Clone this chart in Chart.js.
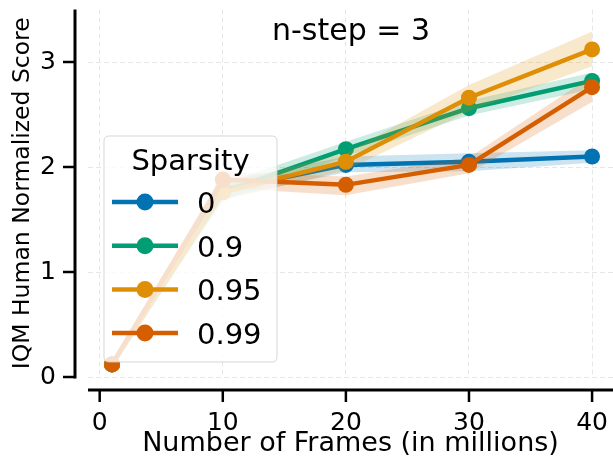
<!DOCTYPE html>
<html><head><meta charset="utf-8">
<script src="https://cdn.jsdelivr.net/npm/chart.js@4/dist/chart.umd.min.js"></script>
<style>html,body{margin:0;padding:0;background:#fff}#wrap{width:613px;height:469px}</style>
</head><body><div id="wrap"><canvas id="c" width="613" height="469"></canvas></div>
<script>
// ---- data ----
const frames = [1, 10, 20, 30, 40];
const seriesNames = ['0', '0.9', '0.95', '0.99'];
const score_0    = [0.12, 1.78, 2.02, 2.05, 2.10];
const score_090  = [0.12, 1.76, 2.17, 2.56, 2.82];
const score_095  = [0.12, 1.76, 2.05, 2.66, 3.12];
const score_099  = [0.12, 1.88, 1.83, 2.02, 2.76];
const low_0      = [0.09, 1.70, 1.95, 1.96, 2.04];
const high_0     = [0.15, 1.86, 2.10, 2.13, 2.16];
const low_090    = [0.09, 1.68, 2.10, 2.49, 2.74];
const high_090   = [0.15, 1.84, 2.24, 2.63, 2.90];
const low_095    = [0.09, 1.68, 1.97, 2.53, 2.96];
const high_095   = [0.15, 1.84, 2.13, 2.78, 3.29];
const low_099    = [0.09, 1.80, 1.73, 1.94, 2.62];
const high_099   = [0.15, 1.95, 1.91, 2.09, 2.87];
const xTicks = [0, 10, 20, 30, 40];
const yTicks = [0, 1, 2, 3];
const titleText = 'n-step = 3';
const legendTitle = 'Sparsity';
const xLabel = 'Number of Frames (in millions)';
const yLabel = 'IQM Human Normalized Score';

// ---- styles ----
const means = [score_0, score_090, score_095, score_099];
const lows = [low_0, low_090, low_095, low_099];
const highs = [high_0, high_090, high_095, high_099];
const colors = ['#0173b2', '#029e73', '#de8f05', '#d55e00'];
const bandColors = ['rgba(1,115,178,0.2)', 'rgba(2,158,115,0.2)', 'rgba(222,143,5,0.2)', 'rgba(213,94,0,0.2)'];
const FONT = 'DejaVu Sans';

const pts = arr => frames.map((x, j) => ({x: x, y: arr[j]}));
const datasets = [];
let k = 0;
for (let i = 0; i < means.length; i++) {
  datasets.push({label: '_hi', data: pts(highs[i]), borderWidth: 0, pointRadius: 0, borderColor: 'rgba(0,0,0,0)',
    backgroundColor: bandColors[i], fill: '+1', order: 100 - (k++), isBand: true});
  datasets.push({label: '_lo', data: pts(lows[i]), borderWidth: 0, pointRadius: 0, borderColor: 'rgba(0,0,0,0)',
    fill: false, order: 100 - (k++), isBand: true});
  datasets.push({label: seriesNames[i], data: pts(means[i]), borderColor: colors[i], backgroundColor: colors[i],
    borderWidth: 4.5, pointRadius: 8, pointBorderWidth: 0, pointBackgroundColor: colors[i], fill: false,
    order: 100 - (k++)});
}

const axesPlugin = {
  id: 'spines',
  afterDraw(chart) {
    const ctx = chart.ctx, ca = chart.chartArea;
    const xs = chart.scales.x, ys = chart.scales.y;
    const off = 13;
    ctx.save();
    ctx.strokeStyle = '#000';
    ctx.lineWidth = 3;
    ctx.lineCap = 'butt';
    const sy = ca.bottom + off;
    ctx.beginPath(); ctx.moveTo(ca.left, sy); ctx.lineTo(chart.width, sy); ctx.stroke();
    const sx = ca.left - off;
    ctx.beginPath(); ctx.moveTo(sx, ca.top); ctx.lineTo(sx, ca.bottom + 1.5); ctx.stroke();
    ctx.lineWidth = 2.5;
    xs.ticks.forEach(t => { const p = xs.getPixelForValue(t.value);
      ctx.beginPath(); ctx.moveTo(p, sy); ctx.lineTo(p, sy + 12); ctx.stroke(); });
    ys.ticks.forEach(t => { const p = ys.getPixelForValue(t.value);
      ctx.beginPath(); ctx.moveTo(sx, p); ctx.lineTo(sx - 12, p); ctx.stroke(); });
    ctx.restore();
  },
  afterDatasetsDraw(chart) {
    const ctx = chart.ctx;
    ctx.save();
    ctx.fillStyle = '#000';
    ctx.font = '30px "' + FONT + '"';
    ctx.textAlign = 'center'; ctx.textBaseline = 'alphabetic';
    ctx.fillText(titleText, 351, 40);
    const bx = 104, by = 136, bw = 173, bh = 226, r = 5;
    ctx.beginPath();
    ctx.moveTo(bx + r, by); ctx.lineTo(bx + bw - r, by); ctx.quadraticCurveTo(bx + bw, by, bx + bw, by + r);
    ctx.lineTo(bx + bw, by + bh - r); ctx.quadraticCurveTo(bx + bw, by + bh, bx + bw - r, by + bh);
    ctx.lineTo(bx + r, by + bh); ctx.quadraticCurveTo(bx, by + bh, bx, by + bh - r);
    ctx.lineTo(bx, by + r); ctx.quadraticCurveTo(bx, by, bx + r, by); ctx.closePath();
    ctx.fillStyle = 'rgba(255,255,255,0.8)'; ctx.fill();
    ctx.strokeStyle = 'rgba(204,204,204,0.8)'; ctx.lineWidth = 1; ctx.stroke();
    ctx.fillStyle = '#000';
    ctx.font = '29px "' + FONT + '"';
    ctx.textAlign = 'center';
    ctx.fillText(legendTitle, bx + bw / 2, 170);
    ctx.textAlign = 'left';
    const mains = chart.data.datasets.filter(d => !d.isBand);
    mains.forEach((d, i) => {
      const cy = 202 + i * 43.7;
      ctx.strokeStyle = d.borderColor; ctx.lineWidth = 4.5;
      ctx.beginPath(); ctx.moveTo(112, cy); ctx.lineTo(178, cy); ctx.stroke();
      ctx.fillStyle = d.borderColor;
      ctx.beginPath(); ctx.arc(145, cy, 8.5, 0, Math.PI * 2); ctx.fill();
      ctx.fillStyle = '#000';
      ctx.fillText(d.label, 197, cy + 11);
    });
    ctx.restore();
  }
};

new Chart(document.getElementById('c'), {
  type: 'line',
  data: {datasets: datasets},
  options: {
    responsive: false, animation: false, devicePixelRatio: 1,
    layout: {autoPadding: false, padding: {top: 9.5, left: 0, right: 0, bottom: 0}},
    plugins: {legend: {display: false}, tooltip: {enabled: false}, title: {display: false}},
    elements: {line: {tension: 0}},
    scales: {
      x: {
        type: 'linear', min: -0.95, max: 41.7,
        afterBuildTicks: s => { s.ticks = xTicks.map(v => ({value: v})); },
        afterFit: s => { s.height = 92; s.paddingLeft = 0; s.paddingRight = 0; },
        grid: {color: '#e6e6e6', lineWidth: 1, drawTicks: true, tickLength: 31, tickColor: 'rgba(0,0,0,0)'},
        border: {display: false, dash: [5, 3]},
        ticks: {padding: 0, color: '#000', font: {family: FONT, size: 25}, maxRotation: 0, autoSkip: false},
        title: {display: true, text: xLabel, color: '#000', font: {family: FONT, size: 27}, padding: {top: 0, bottom: 9}}
      },
      y: {
        type: 'linear', min: 0, max: 3.5,
        afterBuildTicks: s => { s.ticks = yTicks.map(v => ({value: v})); },
        afterFit: s => { s.width = 88; s.paddingTop = 0; s.paddingBottom = 0; },
        grid: {color: '#e6e6e6', lineWidth: 1, drawTicks: true, tickLength: 32, tickColor: 'rgba(0,0,0,0)'},
        border: {display: false, dash: [5, 3]},
        ticks: {padding: 0, color: '#000', font: {family: FONT, size: 25}, autoSkip: false},
        title: {display: true, text: yLabel, color: '#000', font: {family: FONT, size: 23.5}, padding: {top: 9, bottom: 0}}
      }
    }
  },
  plugins: [axesPlugin]
});
</script>
</body></html>
